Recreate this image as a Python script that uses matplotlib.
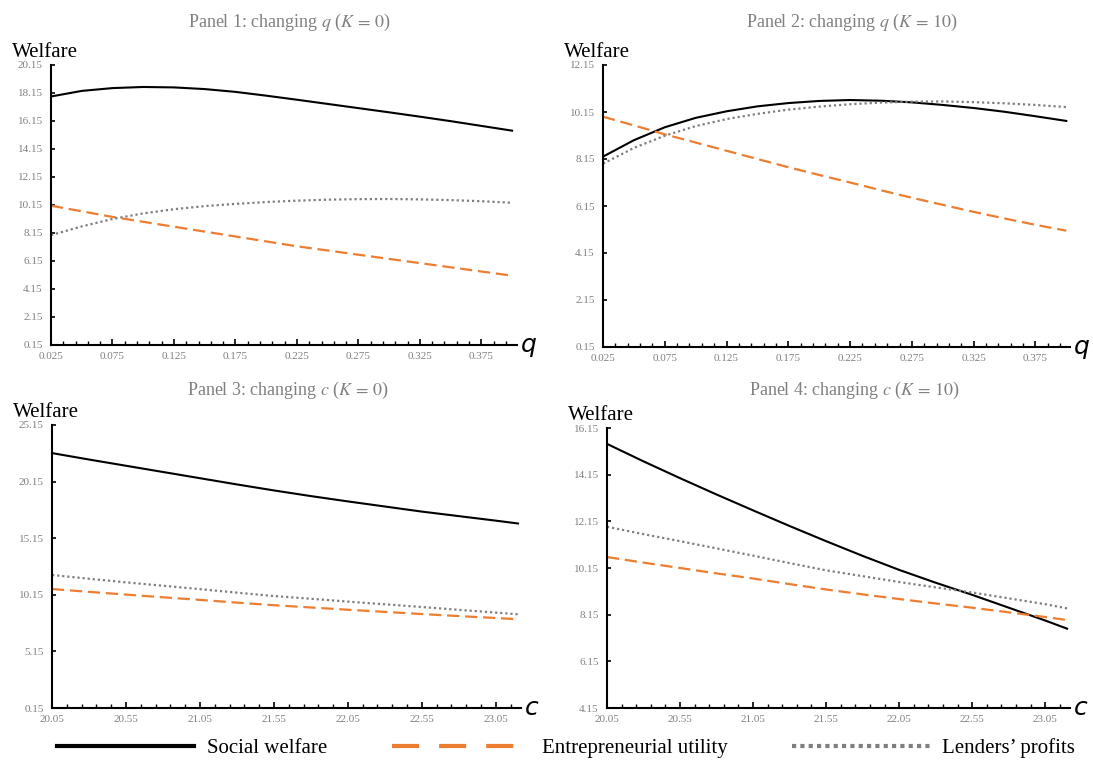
#!/usr/bin/env python

import numpy as np
import matplotlib
matplotlib.use("Agg")
import matplotlib.pyplot as plt
from matplotlib.lines import Line2D

plt.rcParams['font.family'] = ['Liberation Serif', 'DejaVu Serif']
plt.rcParams['mathtext.fontset'] = 'stix'

# Panels 1 and 2: welfare as q changes
q_values = [0.025, 0.05, 0.075, 0.1, 0.125, 0.15, 0.175, 0.2,
            0.225, 0.25, 0.275, 0.3, 0.325, 0.35, 0.375, 0.4]

p1_social = [17.9, 18.3, 18.5, 18.58, 18.55, 18.43, 18.23, 17.96,
             17.67, 17.37, 17.07, 16.77, 16.46, 16.14, 15.8, 15.46]
p1_entre = [10.1, 9.7, 9.3, 8.95, 8.6, 8.25, 7.9, 7.55,
            7.2, 6.9, 6.6, 6.3, 6.0, 5.7, 5.4, 5.1]
p1_lenders = [8.0, 8.62, 9.15, 9.55, 9.85, 10.07, 10.23, 10.36,
              10.46, 10.53, 10.57, 10.58, 10.55, 10.5, 10.42, 10.31]

p2_social = [8.25, 8.95, 9.5, 9.9, 10.18, 10.39, 10.53, 10.62,
             10.66, 10.63, 10.56, 10.45, 10.32, 10.16, 9.97, 9.77]
p2_entre = [9.95, 9.58, 9.2, 8.85, 8.5, 8.15, 7.8, 7.47,
            7.15, 6.82, 6.5, 6.2, 5.9, 5.62, 5.35, 5.1]
p2_lenders = [7.95, 8.62, 9.14, 9.55, 9.85, 10.07, 10.25, 10.38,
              10.48, 10.55, 10.59, 10.6, 10.57, 10.52, 10.45, 10.36]

# Panels 3 and 4: welfare as c changes
c_values = [20.05, 20.3, 20.55, 20.8, 21.05, 21.3, 21.55, 21.8,
            22.05, 22.3, 22.55, 22.8, 23.05, 23.2]

p3_social = [22.67, 22.1, 21.55, 21.0, 20.45, 19.9, 19.37, 18.87,
             18.4, 17.95, 17.5, 17.1, 16.7, 16.45]
p3_entre = [10.66, 10.41, 10.17, 9.93, 9.7, 9.46, 9.23, 9.03,
            8.83, 8.64, 8.45, 8.27, 8.1, 7.99]
p3_lenders = [11.9, 11.57, 11.25, 10.95, 10.65, 10.34, 10.04, 9.8,
              9.55, 9.31, 9.07, 8.82, 8.58, 8.43]

p4_social = [15.47, 14.72, 14.0, 13.3, 12.62, 11.95, 11.3, 10.67,
             10.07, 9.52, 9.0, 8.45, 7.9, 7.55]
p4_entre = [10.62, 10.38, 10.15, 9.92, 9.7, 9.46, 9.23, 9.02,
            8.82, 8.63, 8.45, 8.25, 8.05, 7.92]
p4_lenders = [11.92, 11.6, 11.3, 10.99, 10.68, 10.36, 10.05, 9.8,
              9.55, 9.32, 9.1, 8.85, 8.6, 8.42]

titles = [r"Panel 1: changing $q$ ($K\,=\,0$)",
          r"Panel 2: changing $q$ ($K\,=\,10$)",
          r"Panel 3: changing $c$ ($K\,=\,0$)",
          r"Panel 4: changing $c$ ($K\,=\,10$)"]

ORANGE = '#ED7D31'
GREY = '#7F7F7F'
TICK_GREY = '#808080'


def draw_panel(ax, x, social, entre, lenders, ylim, ystep, xmajor, xminor,
               xfmt, xname, title, title_xy, fig):
    """Draw one welfare panel."""
    ax.plot(x, social, color='black', lw=1.5)
    ax.plot(x, entre, color=ORANGE, lw=1.6, linestyle=(0, (5.5, 2.6)))
    ax.plot(x, lenders, color=GREY, lw=1.6, linestyle=(0, (1, 1.3)))

    ax.set_ylim(*ylim)
    ax.set_yticks(np.arange(ylim[0], ylim[1] + 1e-6, ystep))
    ax.set_yticklabels(["{0:.2f}".format(v) for v in ax.get_yticks()])
    ax.set_xticks(xmajor)
    ax.set_xticklabels([xfmt.format(v) for v in xmajor])
    ax.set_xticks(xminor, minor=True)

    for side in ['top', 'right']:
        ax.spines[side].set_visible(False)
    for side in ['left', 'bottom']:
        ax.spines[side].set_linewidth(1.5)
        ax.spines[side].set_color('black')

    ax.tick_params(axis='y', direction='in', length=3, width=1.2,
                   labelsize=8, labelcolor=TICK_GREY, pad=6)
    ax.tick_params(axis='x', which='major', direction='in', length=4,
                   width=1.2, labelsize=8, labelcolor=TICK_GREY, pad=5)
    ax.tick_params(axis='x', which='minor', direction='in', length=3,
                   width=1.0)

    ax.annotate('Welfare', xy=(0, 1), xycoords='axes fraction',
                xytext=(-4, 6), textcoords='offset points',
                ha='center', va='baseline', fontsize=15, color='black')
    ax.annotate(xname, xy=(1, 0), xycoords='axes fraction',
                xytext=(3, 0), textcoords='offset points',
                ha='left', va='center', fontsize=18, style='italic',
                family='DejaVu Sans', color='black')

    fig.text(title_xy[0], title_xy[1], title, ha='center', va='center',
             fontsize=13, color=TICK_GREY)


def main():
    W, H = 1093, 760
    fig = plt.figure(figsize=(W / 100, H / 100), dpi=100)

    def box(left, right, top, bottom):
        return [left / W, 1 - bottom / H, (right - left) / W, (bottom - top) / H]

    ax1 = fig.add_axes(box(51, 517, 65, 345))
    ax2 = fig.add_axes(box(603, 1070, 65, 347))
    ax3 = fig.add_axes(box(52, 521, 425, 708))
    ax4 = fig.add_axes(box(607, 1070, 428, 708))

    q_major = np.arange(0.025, 0.376, 0.05)
    q_minor = np.arange(0.025, 0.406, 0.01)
    c_major = np.arange(20.05, 23.06, 0.5)
    c_minor = np.arange(20.05, 23.26, 0.1)

    draw_panel(ax1, q_values, p1_social, p1_entre, p1_lenders, (0.15, 20.15), 2,
               q_major, q_minor, "{0:.3f}", "q", titles[0], (290 / W, 1 - 22 / H), fig)
    ax1.set_xlim(0.025, 0.404)
    draw_panel(ax2, q_values, p2_social, p2_entre, p2_lenders, (0.15, 12.15), 2,
               q_major, q_minor, "{0:.3f}", "q", titles[1], (852 / W, 1 - 22 / H), fig)
    ax2.set_xlim(0.025, 0.403)
    draw_panel(ax3, c_values, p3_social, p3_entre, p3_lenders, (0.15, 25.15), 5,
               c_major, c_minor, "{0:.2f}", "c", titles[2], (288 / W, 1 - 390 / H), fig)
    ax3.set_xlim(20.05, 23.22)
    draw_panel(ax4, c_values, p4_social, p4_entre, p4_lenders, (4.15, 16.15), 2,
               c_major, c_minor, "{0:.2f}", "c", titles[3], (855 / W, 1 - 390 / H), fig)
    ax4.set_xlim(20.05, 23.22)

    # Legend along the bottom, with thicker sample lines
    handles = [
        Line2D([], [], color='black', lw=3),
        Line2D([], [], color=ORANGE, lw=3, linestyle=(0, (6.5, 4.8))),
        Line2D([], [], color=GREY, lw=3, linestyle=(0, (1, 1))),
    ]
    labels = ['Social welfare', 'Entrepreneurial utility', u'Lenders\u2019 profits']
    fig.legend(handles, labels, loc='center', ncol=3, frameon=False,
               bbox_to_anchor=(566 / W, 12 / H), fontsize=15,
               handlelength=6.6, handletextpad=0.6, columnspacing=3.1,
               borderpad=0, borderaxespad=0)

    fig.savefig('out.png', dpi=100)


if __name__ == "__main__":
    main()
